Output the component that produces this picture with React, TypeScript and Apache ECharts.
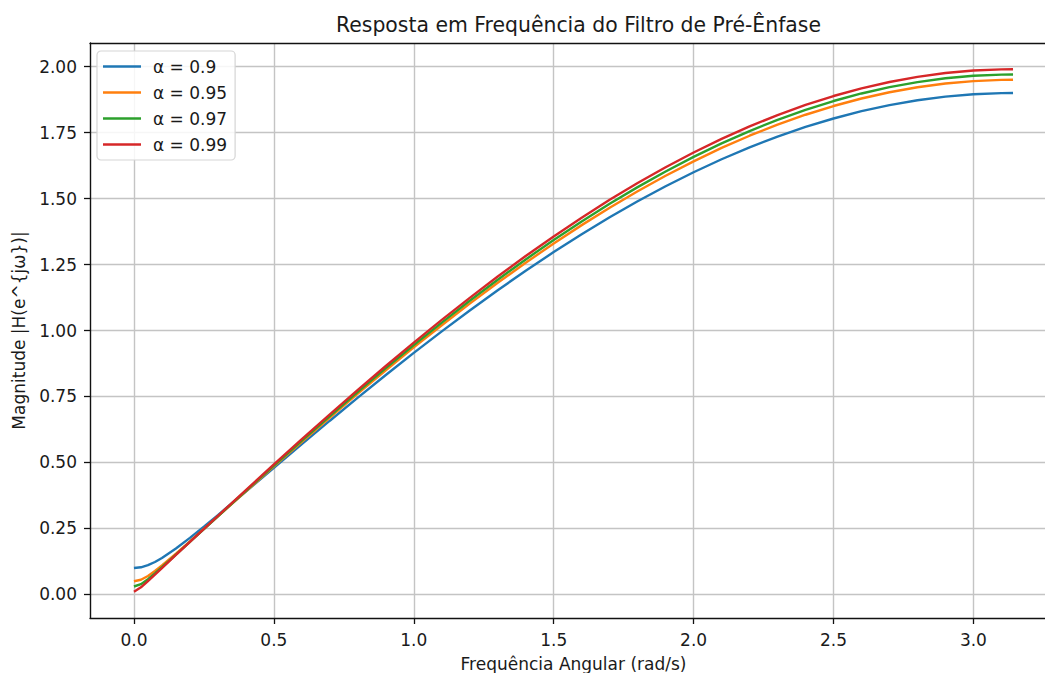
import React, { useEffect, useRef } from "react";
import * as echarts from "echarts";

const omega = [0, 0.025, 0.05, 0.075, 0.1, 0.15, 0.2, 0.25, 0.3, 0.4, 0.5, 0.6, 0.7, 0.8, 0.9, 1.0, 1.1, 1.2, 1.3, 1.4, 1.5, 1.6, 1.7, 1.8, 1.9, 2.0, 2.1, 2.2, 2.3, 2.4, 2.5, 2.6, 2.7, 2.8, 2.9, 3.0, 3.1, 3.1416];

const mag090 = [0.1, 0.1028, 0.1107, 0.1227, 0.1378, 0.1738, 0.2142, 0.2568, 0.3007, 0.39, 0.48, 0.5696, 0.6582, 0.7456, 0.8313, 0.9151, 0.9968, 1.076, 1.1526, 1.2264, 1.2972, 1.3648, 1.429, 1.4896, 1.5466, 1.5997, 1.6489, 1.6939, 1.7347, 1.7713, 1.8034, 1.831, 1.854, 1.8724, 1.8862, 1.8953, 1.8996, 1.9];
const mag095 = [0.05, 0.0556, 0.0698, 0.0886, 0.1095, 0.1544, 0.2009, 0.2481, 0.2956, 0.3905, 0.4849, 0.5782, 0.6703, 0.7608, 0.8494, 0.9359, 1.0201, 1.1018, 1.1808, 1.2568, 1.3297, 1.3993, 1.4654, 1.5278, 1.5864, 1.6411, 1.6917, 1.738, 1.78, 1.8176, 1.8506, 1.879, 1.9027, 1.9217, 1.9358, 1.9451, 1.9496, 1.95];
const mag097 = [0.03, 0.0388, 0.0577, 0.0797, 0.1029, 0.1506, 0.1989, 0.2474, 0.2959, 0.3925, 0.4883, 0.5829, 0.6761, 0.7677, 0.8573, 0.9448, 1.03, 1.1126, 1.1925, 1.2693, 1.343, 1.4134, 1.4802, 1.5433, 1.6025, 1.6578, 1.7089, 1.7557, 1.7982, 1.8362, 1.8695, 1.8982, 1.9222, 1.9413, 1.9557, 1.9651, 1.9696, 1.97];
const mag099 = [0.01, 0.0268, 0.0507, 0.0753, 0.1, 0.1494, 0.1989, 0.2483, 0.2976, 0.3955, 0.4924, 0.5882, 0.6824, 0.775, 0.8656, 0.9541, 1.0402, 1.1237, 1.2044, 1.282, 1.3565, 1.4276, 1.4951, 1.5588, 1.6187, 1.6745, 1.7262, 1.7735, 1.8164, 1.8548, 1.8885, 1.9175, 1.9417, 1.9611, 1.9755, 1.985, 1.9896, 1.99];

const seriesNames = ["α = 0.9", "α = 0.95", "α = 0.97", "α = 0.99"];
const seriesValues = [mag090, mag095, mag097, mag099];
const colors = ["#1f77b4", "#ff7f0e", "#2ca02c", "#d62728"];

const xTicks = [0, 0.5, 1.0, 1.5, 2.0, 2.5, 3.0];
const yTicks = [0, 0.25, 0.5, 0.75, 1.0, 1.25, 1.5, 1.75, 2.0];

const titleText = "Resposta em Frequência do Filtro de Pré-Ênfase";
const xLabel = "Frequência Angular (rad/s)";
const yLabel = "Magnitude |H(e^{jω})|";

const FONT = "DejaVu Sans";
const TEXT = "#1a1a1a";

export default function App() {
  const ref = useRef<HTMLDivElement>(null);
  useEffect(() => {
    if (!ref.current) return;
    const chart = echarts.init(ref.current, null, { renderer: "svg" });
    const xMin = -0.1571;
    const xMax = 3.2987;
    const yMin = -0.0894;
    const yMax = 2.0894;
    const spine = { color: "#111", width: 1.4 };
    chart.setOption({
      animation: false,
      backgroundColor: "#ffffff",
      title: {
        text: titleText,
        left: 573.5,
        top: 10,
        textAlign: "center",
        textStyle: { fontFamily: FONT, fontSize: 20.4, fontWeight: "normal", color: TEXT },
      },
      legend: {
        orient: "vertical",
        left: 97,
        top: 51,
        padding: [7, 8, 7, 6],
        icon: "rect",
        itemWidth: 38,
        itemHeight: 2.4,
        itemGap: 9,
        backgroundColor: "rgba(255,255,255,0.85)",
        borderColor: "#d5d5d5",
        borderWidth: 1.2,
        borderRadius: 4,
        data: seriesNames,
        textStyle: { fontFamily: FONT, fontSize: 17, color: TEXT, lineHeight: 17, padding: [0, 0, 0, 7] },
      },
      grid: { left: 90, top: 43, width: 967, height: 575, containLabel: false, outerBoundsMode: "none" },
      xAxis: [
        {
          type: "value",
          min: xMin,
          max: xMax,
          axisLine: { show: true, onZero: false, lineStyle: spine },
          axisTick: { show: true, inside: false, length: 6, lineStyle: { color: "#111", width: 1.3 }, customValues: xTicks },
          axisLabel: {
            customValues: xTicks,
            margin: 13,
            fontFamily: FONT,
            fontSize: 17,
            color: TEXT,
            formatter: (v: number) => v.toFixed(1),
          },
          splitLine: { show: true, lineStyle: { color: "#c4c4c4", width: 1.4 } },
          name: xLabel,
          nameLocation: "middle",
          nameGap: 37,
          nameTextStyle: { fontFamily: FONT, fontSize: 17, color: TEXT },
        },
        {
          type: "value",
          position: "top",
          min: xMin,
          max: xMax,
          axisLine: { show: true, onZero: false, lineStyle: spine },
          axisTick: { show: false },
          axisLabel: { show: false },
          splitLine: { show: false },
        },
      ],
      yAxis: [
        {
          type: "value",
          min: yMin,
          max: yMax,
          axisLine: { show: true, onZero: false, lineStyle: spine },
          axisTick: { show: true, inside: false, length: 6, lineStyle: { color: "#111", width: 1.3 }, customValues: yTicks },
          axisLabel: {
            customValues: yTicks,
            margin: 13,
            fontFamily: FONT,
            fontSize: 17,
            color: TEXT,
            formatter: (v: number) => v.toFixed(2),
          },
          splitLine: { show: true, lineStyle: { color: "#c4c4c4", width: 1.4 } },
          name: yLabel,
          nameLocation: "middle",
          nameGap: 63,
          nameRotate: 90,
          nameTextStyle: { fontFamily: FONT, fontSize: 17, color: TEXT },
        },
        {
          type: "value",
          position: "right",
          min: yMin,
          max: yMax,
          axisLine: { show: true, onZero: false, lineStyle: spine },
          axisTick: { show: false },
          axisLabel: { show: false },
          splitLine: { show: false },
        },
      ],
      series: seriesNames.map((name, i) => ({
        name,
        type: "line",
        xAxisIndex: 0,
        yAxisIndex: 0,
        symbol: "none",
        showSymbol: false,
        smooth: false,
        color: colors[i],
        lineStyle: { color: colors[i], width: 2.4 },
        data: omega.map((w, k) => [w, seriesValues[i][k]]),
      })),
    });
    return () => chart.dispose();
  }, []);
  return (
    <div style={{ position: "fixed", left: 0, top: 0, width: 1045, height: 673, overflow: "hidden", background: "#fff" }}>
      <div ref={ref} style={{ width: 1070, height: 673 }} />
    </div>
  );
}
